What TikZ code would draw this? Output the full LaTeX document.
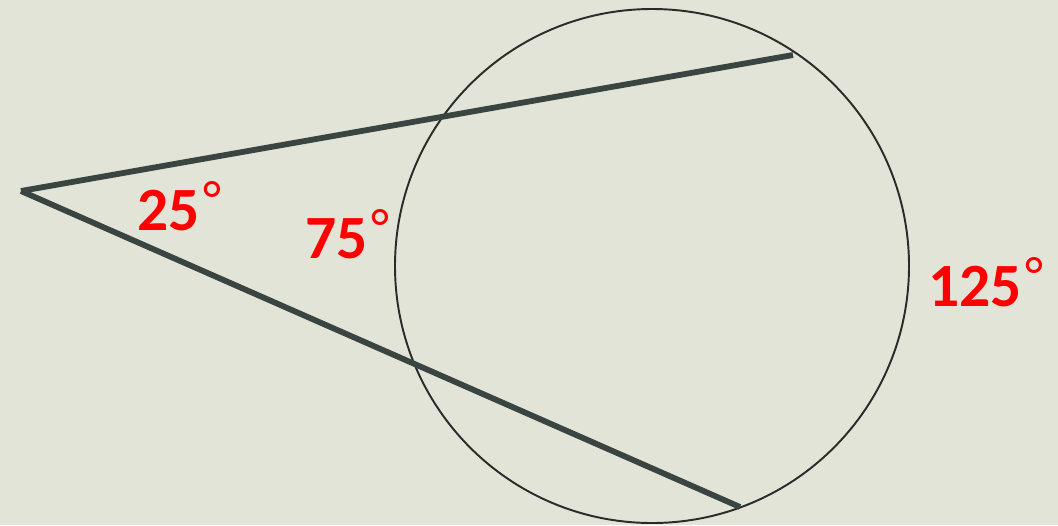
\documentclass[tikz,border=0pt]{standalone}
\usepackage{fontspec}
\setmainfont{Carlito}
\usepackage{xcolor}
\usetikzlibrary{positioning,calc}
\definecolor{boardbg}{RGB}{227,228,216}
\definecolor{secantdark}{RGB}{58,68,64}
\definecolor{circledark}{RGB}{40,44,42}
\definecolor{anglered}{RGB}{255,0,0}
\newcommand{\ringdeg}{\hspace{2pt}{\mdseries\fontsize{30}{30}\selectfont\raisebox{7pt}{°}}}

\begin{document}
\begin{tikzpicture}[
    x=0.02cm, y=-0.02cm,
    secant/.style={line width=3.3pt, draw=secantdark},
    rim/.style={line width=1.1pt, draw=circledark},
    deg/.style={anchor=base west, inner sep=0pt, text=anglered,
      font=\fontsize{35}{40}\selectfont\bfseries},
  ]
  \fill[boardbg] (0,0) rectangle (1058,525);
  \useasboundingbox (0,0) rectangle (1058,525);

  \coordinate (O) at (652,266);
  \coordinate (P) at (21,191);
  \coordinate (A) at (793,55);
  \coordinate (B) at (740,507);

  \draw[rim] (O) circle[radius=257];
  \draw[secant] (P) -- (A);
  \draw[secant] (P) -- (B);

  \node[deg] (outer) at (137,230) {25\ringdeg};
  \node[deg] (near) at (305,258) {75\ringdeg};
  \node[deg] (far) at (928,306) {125\ringdeg};
\end{tikzpicture}
\end{document}
